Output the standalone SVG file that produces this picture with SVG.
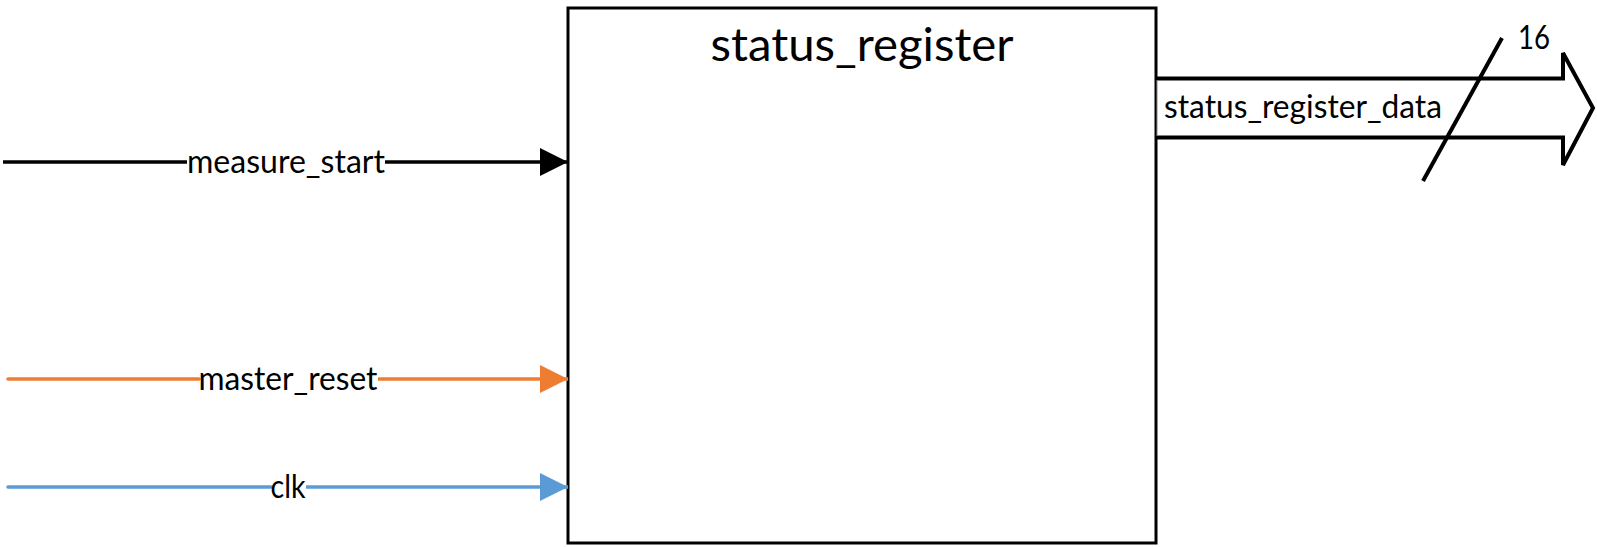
<svg xmlns="http://www.w3.org/2000/svg" width="1597" height="547" viewBox="0 0 1597 547">
<style>
  text { font-family: Lato, "Open Sans", "Liberation Sans", sans-serif; fill: #000; }
  .lbl { font-size: 32px; }
  .title { font-size: 47px; }
  .wire { fill: none; stroke-width: 3.5; }
</style>
<defs>
  <marker id="ahBlack" markerUnits="userSpaceOnUse" markerWidth="30" markerHeight="30" refX="28" refY="14" orient="auto" viewBox="0 0 30 28">
    <path d="M0,0 L28,14 L0,28 Z" fill="#000"/>
  </marker>
  <marker id="ahOrange" markerUnits="userSpaceOnUse" markerWidth="30" markerHeight="30" refX="28" refY="14" orient="auto" viewBox="0 0 30 28">
    <path d="M0,0 L28,14 L0,28 Z" fill="#ED7D31"/>
  </marker>
  <marker id="ahBlue" markerUnits="userSpaceOnUse" markerWidth="30" markerHeight="30" refX="28" refY="14" orient="auto" viewBox="0 0 30 28">
    <path d="M0,0 L28,14 L0,28 Z" fill="#5B9BD5"/>
  </marker>
</defs>
<rect width="1597" height="547" fill="#fff"/>

<g id="status_register">
  <rect x="568" y="8" width="588" height="535" fill="#fff" stroke="#000" stroke-width="3"/>
  <text class="title" x="862" y="61" text-anchor="middle" textLength="303" lengthAdjust="spacingAndGlyphs">status_register</text>
</g>

<g id="connectors">
  <g id="measure_start">
    <line class="wire" x1="3" y1="162" x2="187" y2="162" stroke="#000"/>
    <line class="wire" x1="385" y1="162" x2="568" y2="162" stroke="#000" marker-end="url(#ahBlack)"/>
    <text class="lbl" x="286" y="173" text-anchor="middle" textLength="198" lengthAdjust="spacingAndGlyphs">measure_start</text>
  </g>
  <g id="master_reset">
    <line class="wire" x1="8" y1="379" x2="199" y2="379" stroke="#ED7D31" stroke-linecap="round"/>
    <line class="wire" x1="378" y1="379" x2="568" y2="379" stroke="#ED7D31" marker-end="url(#ahOrange)"/>
    <text class="lbl" x="288" y="390" text-anchor="middle" textLength="179" lengthAdjust="spacingAndGlyphs">master_reset</text>
  </g>
  <g id="clk">
    <line class="wire" x1="8" y1="487" x2="271" y2="487" stroke="#5B9BD5" stroke-linecap="round"/>
    <line class="wire" x1="306" y1="487" x2="568" y2="487" stroke="#5B9BD5" marker-end="url(#ahBlue)"/>
    <text class="lbl" x="288" y="498" text-anchor="middle" textLength="35" lengthAdjust="spacingAndGlyphs">clk</text>
  </g>
  <g id="status_register_data">
    <path d="M1157,78.5 L1563,78.5 L1563,53 L1593,108 L1563,165 L1563,137.5 L1157,137.5" fill="#fff" stroke="#000" stroke-width="4" stroke-linejoin="miter"/>
    <line x1="1157" y1="80" x2="1157" y2="136" stroke="#888" stroke-width="1"/>
    <text class="lbl" x="1164" y="118" textLength="278" lengthAdjust="spacingAndGlyphs">status_register_data</text>
    <line x1="1502" y1="38" x2="1423" y2="181" stroke="#000" stroke-width="4"/>
    <text class="lbl" x="1518" y="49" textLength="32" lengthAdjust="spacingAndGlyphs">16</text>
  </g>
</g>
</svg>
